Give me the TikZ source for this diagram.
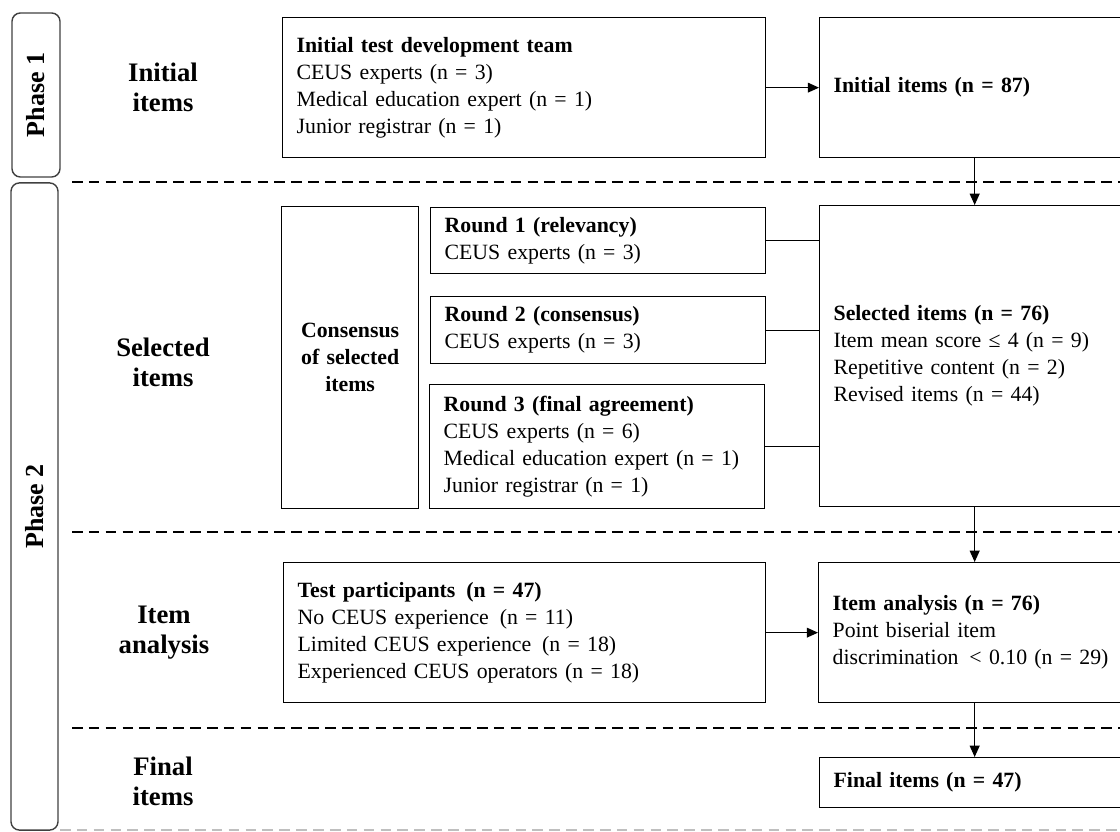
\documentclass[tikz,border=0pt]{standalone}
\usepackage{fontspec}
\setmainfont{Liberation Serif}
\usetikzlibrary{arrows.meta,positioning}

\begin{document}
\begin{tikzpicture}[
  x=0.025cm, y=-0.025cm,
  box/.style={draw, line width=0.9pt, align=left, anchor=north west, inner xsep=0.35cm, inner ysep=0pt, font=\fontsize{15.5}{19.2}\selectfont},
  midbox/.style={box, align=center, font=\fontsize{15.5}{19.2}\selectfont\bfseries},
  phase/.style={draw=black!75, line width=1pt, rounded corners=6pt, font=\fontsize{18.5}{20}\selectfont\bfseries},
  lab/.style={align=center, font=\fontsize{19}{21.3}\selectfont\bfseries},
  sep/.style={dash pattern=on 7.5pt off 4.5pt, line width=1.5pt},
  arr/.style={-{Triangle[length=8pt,width=7pt]}, line width=0.8pt},
  link/.style={line width=0.8pt}
]
\useasboundingbox (0,0) rectangle (1120,832);
\clip (0,0) rectangle (1120,832);

% phases
\node[phase, rotate=90, minimum width=4.1cm, minimum height=1.2cm] (ph1) at (36,95) {Phase 1};
\node[phase, rotate=90, minimum width=16.175cm, minimum height=1.175cm] (ph2) at (34.5,506.5) {Phase 2};

% row labels
\node[lab] (lini) at (163,87) {Initial\\items};
\node[lab] (lsel) at (163,362) {Selected\\items};
\node[lab] (lana) at (164,633) {Item\\analysis};
\node[lab] (lfin) at (163,781) {Final\\items};

% separators
\draw[sep] (72,182) -- (1120,182);
\draw[sep] (72,532) -- (1120,532);
\draw[sep] (72,728) -- (1120,728);
\draw[sep, black!25, line width=1pt] (60,830) -- (1120,830);

% boxes
\node[box, text width=11.375cm, minimum height=3.5cm] (team) at (282,17)
  {\textbf{Initial test development team}\\CEUS experts (n = 3)\\Medical education expert (n = 1)\\Junior registrar (n = 1)};
\node[box, text width=7.05cm, minimum height=3.5cm] (initial) at (819,17)
  {\textbf{Initial items (n = 87)}};

\node[midbox, text width=2.725cm, minimum height=7.55cm] (cons) at (281,206)
  {Consensus\\of selected\\items};
\node[box, text width=7.675cm, minimum height=1.65cm] (r1) at (430,207)
  {\textbf{Round 1 (relevancy)}\\CEUS experts (n = 3)};
\node[box, text width=7.675cm, minimum height=1.675cm] (r2) at (430,296)
  {\textbf{Round 2 (consensus)}\\CEUS experts (n = 3)};
\node[box, text width=7.675cm, minimum height=3.1cm] (r3) at (429,384)
  {\textbf{Round 3 (final agreement)}\\CEUS experts (n = 6)\\Medical education expert (n = 1)\\Junior registrar (n = 1)};
\node[box, text width=7.05cm, minimum height=7.525cm] (sel) at (819,205)
  {\textbf{Selected items (n = 76)}\\Item mean score ≤ 4 (n = 9)\\Repetitive content (n = 2)\\Revised items (n = 44)};

\node[box, text width=11.35cm, minimum height=3.5cm] (part) at (283,562)
  {\textbf{Test participants\enspace(n = 47)}\\No CEUS experience\enspace(n = 11)\\Limited CEUS experience\enspace(n = 18)\\Experienced CEUS operators (n = 18)};
\node[box, text width=7.075cm, minimum height=3.5cm] (ana) at (818,562)
  {\textbf{Item analysis (n = 76)}\\Point biserial item\\discrimination \,< 0.10 (n = 29)};

\node[box, text width=7.05cm, minimum height=1.25cm] (final) at (819,757)
  {\textbf{Final items (n = 47)}};

% connectors
\draw[arr] (team) -- (initial);
\draw[arr] (initial.south) -- (sel.north);
\draw[link] (r1.east) -- (r1.east -| sel.west);
\draw[link] (r2.east) -- (r2.east -| sel.west);
\draw[link] (r3.east) -- (r3.east -| sel.west);
\draw[arr] (sel.south) -- (ana.north -| sel.south);
\draw[arr] (part) -- (part -| ana.west);
\draw[arr] (ana.south -| final.north) -- (final.north);
\end{tikzpicture}
\end{document}
